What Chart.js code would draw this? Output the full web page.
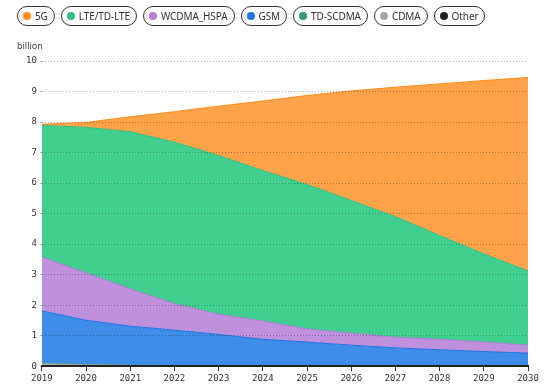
<!DOCTYPE html>
<html>
<head>
<meta charset="utf-8">
<script src="https://cdn.jsdelivr.net/npm/chart.js@4"></script>
<style>
  body { margin:0; background:#fff; font-family:"Noto Sans", sans-serif; }
  #wrap { position:relative; width:558px; height:390px; }
  #legend { position:absolute; left:17px; top:6px; display:flex; gap:6px; }
  .pill { height:18px; border:1px solid #333; border-radius:10px; padding:0 6px 0 5px; display:flex; align-items:center; font-size:10px; color:#333; letter-spacing:-0.1px; }
  .dot { width:8px; height:8px; border-radius:50%; margin-right:4px; }
  #unit { position:absolute; left:17px; top:39px; font-size:9px; color:#444; }
  #box { position:absolute; left:0; top:0; width:558px; height:390px; }
</style>
</head>
<body>
<div id="wrap">
  <div id="box"><canvas id="myChart"></canvas></div>
  <div id="legend"></div>
  <div id="unit">billion</div>
</div>
<script>
// years on x axis
let years = ['2019','2020','2021','2022','2023','2024','2025','2026','2027','2028','2029','2030']
// subscriptions, billion (stacked from bottom: other first)
let other   = [0.01,0.01,0.01,0.01,0.01,0.01,0.01,0.01,0.01,0.01,0.01,0.01]
let cdma    = [0.07,0.04,0.02,0.01,0,0,0,0,0,0,0,0]
let tdscdma = [0.01,0.005,0.003,0,0,0,0,0,0,0,0,0]
let gsm     = [1.72,1.45,1.28,1.16,1.03,0.87,0.78,0.68,0.59,0.53,0.47,0.42]
let wcdma   = [1.77,1.55,1.22,0.87,0.66,0.60,0.43,0.39,0.35,0.34,0.31,0.26]
let lte     = [4.31,4.77,5.15,5.29,5.20,4.93,4.73,4.35,3.95,3.40,2.89,2.43]
let g5      = [0.04,0.16,0.49,1.00,1.62,2.28,2.92,3.59,4.24,4.97,5.68,6.34]

// legend order as in picture
let legendItems = [
    ['5G','#ff8c1a'],['LTE/TD-LTE','#2ec27e'],['WCDMA_HSPA','#b77ed8'],['GSM','#1f74e0'],
    ['TD-SCDMA','#2e9e63'],['CDMA','#a6a6a6'],['Other','#222222']
]
let legend = document.getElementById('legend')
for (let i in legendItems) {
    let p = document.createElement('div')
    p.className = 'pill'
    p.innerHTML = '<span class="dot" style="background:'+legendItems[i][1]+'"></span>'+legendItems[i][0]
    legend.append(p)
}

function ds(label, data, fill, line, first) {
    return {
        label: label,
        data: data,
        backgroundColor: fill,
        borderColor: line,
        borderWidth: 1,
        pointRadius: 0,
        tension: 0,
        fill: first ? 'origin' : '-1'
    }
}

const ctx = document.getElementById('myChart').getContext('2d');
const myChart = new Chart(ctx, {
    type: 'line',
    data: {
        labels: years,
        datasets: [
            ds('Other', other, '#333333', '#222222', true),
            ds('CDMA', cdma, '#b0b0b0', '#a0a0a0'),
            ds('TD-SCDMA', tdscdma, '#3aa56b', '#2e9e63'),
            ds('GSM', gsm, '#3e8de8', '#1f74e0'),
            ds('WCDMA_HSPA', wcdma, '#bf90dc', '#b07ad6'),
            ds('LTE/TD-LTE', lte, '#40cf8f', '#2fbf7f'),
            ds('5G', g5, '#ffa34b', '#ff8c1a')
        ]
    },
    options: {
        responsive: true,
        maintainAspectRatio: false,
        animation: false,
        layout: { padding: { top: 61, right: 30, left: 23, bottom: 4 } },
        plugins: { legend: { display: false }, tooltip: { enabled: false } },
        scales: {
            x: {
                grid: { display: true, drawOnChartArea: false, tickLength: 5, color: '#333' },
                border: { color: '#222', width: 2, z: 2 },
                ticks: { color: '#333', font: { family: 'DejaVu Sans Mono', size: 9 }, maxRotation: 0, padding: 2 }
            },
            y: {
                stacked: true,
                min: 0, max: 10,
                ticks: { stepSize: 1, color: '#333', font: { family: 'DejaVu Sans Mono', size: 9 }, padding: 3 },
                grid: { z: 1, color: 'rgba(0,0,0,0.3)', tickLength: 2, drawTicks: true },
                border: { display: false, dash: [1,2] }
            }
        }
    }
});
</script>
</body>
</html>
